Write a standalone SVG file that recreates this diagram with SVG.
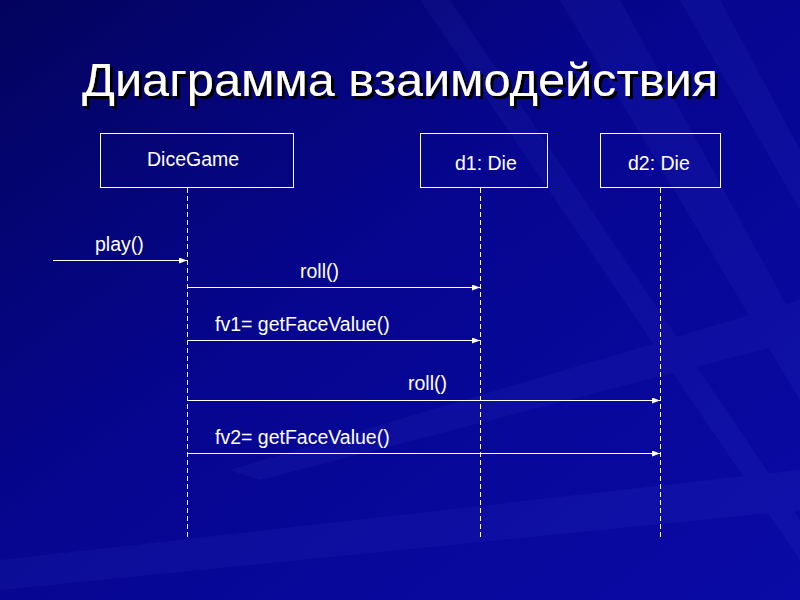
<svg xmlns="http://www.w3.org/2000/svg" width="800" height="600" viewBox="0 0 800 600">
<defs>
<linearGradient id="bg" x1="0" y1="0" x2="1" y2="1">
<stop offset="0" stop-color="#03035e"/>
<stop offset="0.45" stop-color="#060690"/>
<stop offset="1" stop-color="#0a0aa6"/>
</linearGradient>
<filter id="sh" x="-5%" y="-20%" width="110%" height="140%">
<feDropShadow dx="3" dy="3" stdDeviation="0.5" flood-color="#000000" flood-opacity="1"/>
</filter>
<marker id="ah" viewBox="0 0 8 6" refX="8" refY="3" markerWidth="8" markerHeight="6" markerUnits="userSpaceOnUse" orient="auto">
<path d="M0,0 L8,3 L0,6 Z" fill="#ffffff"/>
</marker>
<style>
.box{fill:none;stroke:#ffffff;stroke-width:1}
.life{stroke:#ffffff;stroke-width:1;stroke-dasharray:5,3}
.msg{stroke:#ffffff;stroke-width:1;fill:none;marker-end:url(#ah)}
.lbl{font-family:"Liberation Sans",Arial,sans-serif;font-size:19.5px;fill:#ffffff}
.title{font-family:"Liberation Sans Narrow","Liberation Sans",Arial,sans-serif;font-size:46px;fill:#ffffff}
</style>
</defs>
<rect width="800" height="600" fill="url(#bg)"/>
<g opacity="0.06" fill="#7080ff">
<polygon points="560,0 620,0 800,330 800,400"/>
<polygon points="680,0 720,0 800,150 800,210"/>
<polygon points="420,0 450,0 800,520 800,560"/>
<polygon points="0,560 800,470 800,510 0,590"/>
<polygon points="230,470 800,300 800,340 260,480"/>
</g>
<text x="82" y="96" class="title" filter="url(#sh)" textLength="636" lengthAdjust="spacingAndGlyphs">Диаграмма взаимодействия</text>
<g id="dicegame">
<rect class="box" x="100.5" y="133.5" width="193" height="54"/>
<text class="lbl" x="147" y="166">DiceGame</text>
</g>
<g id="d1">
<rect class="box" x="420.5" y="133.5" width="127" height="54"/>
<text class="lbl" x="455" y="170">d1: Die</text>
</g>
<g id="d2">
<rect class="box" x="600.5" y="133.5" width="120" height="54"/>
<text class="lbl" x="628" y="170">d2: Die</text>
</g>
<g id="connectors">
<line class="life" x1="187.5" y1="188" x2="187.5" y2="540"/>
<line class="life" x1="480.5" y1="188" x2="480.5" y2="540"/>
<line class="life" x1="660.5" y1="188" x2="660.5" y2="540"/>
<line class="msg" x1="53" y1="260.5" x2="187" y2="260.5"/>
<line class="msg" x1="188" y1="287.5" x2="480" y2="287.5"/>
<line class="msg" x1="188" y1="340.5" x2="480" y2="340.5"/>
<line class="msg" x1="188" y1="400.5" x2="660" y2="400.5"/>
<line class="msg" x1="188" y1="453.5" x2="660" y2="453.5"/>
<text class="lbl" x="95" y="251">play()</text>
<text class="lbl" x="300" y="278">roll()</text>
<text class="lbl" x="215" y="331">fv1= getFaceValue()</text>
<text class="lbl" x="408" y="390">roll()</text>
<text class="lbl" x="215" y="444">fv2= getFaceValue()</text>
</g>
</svg>
